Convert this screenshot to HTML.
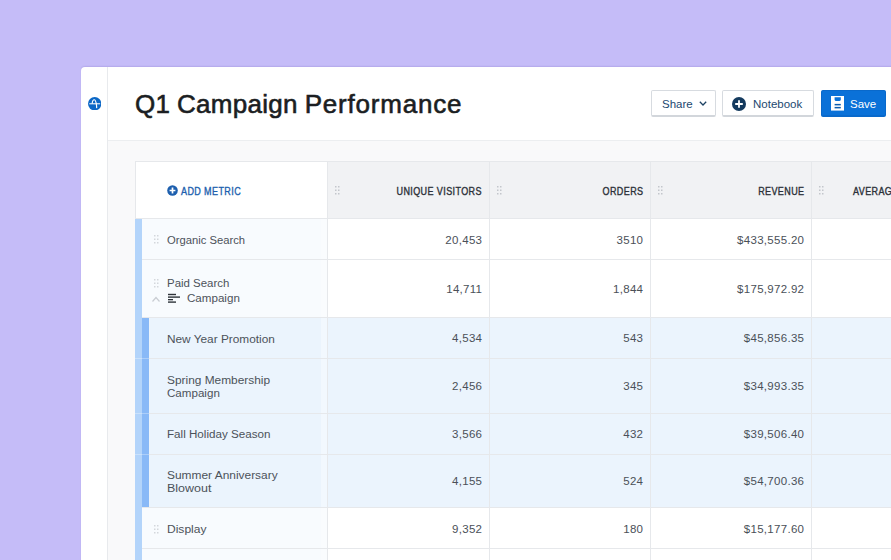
<!DOCTYPE html>
<html><head><meta charset="utf-8">
<style>
*{box-sizing:border-box;margin:0;padding:0}
html,body{width:891px;height:560px;overflow:hidden;background:#c5bcf8;font-family:"Liberation Sans",sans-serif;position:relative}
.a{position:absolute}
.t{position:absolute;white-space:nowrap;font-size:11.7px;color:#4c525a;line-height:20px}
.n{position:absolute;white-space:nowrap;font-size:11.5px;letter-spacing:0.3px;color:#4a5058;line-height:20px;text-align:right}
.h{position:absolute;white-space:nowrap;font-size:10px;font-weight:normal;-webkit-text-stroke:0.35px currentColor;color:#2c3138;text-align:right;line-height:20px;letter-spacing:0.45px;transform:scaleX(0.9);transform-origin:100% 50%}
.btn{position:absolute;top:90px;height:27px;border:1px solid #d7dbe0;border-bottom:2px solid #d2d6db;border-radius:2px;background:#fff;color:#1c4870;font-size:11.5px;line-height:24px;white-space:nowrap}
</style></head><body>
<div class="a" style="left:81px;top:67px;width:820px;height:500px;background:#fff;border-radius:4px 0 0 0;box-shadow:0 -1px 1.5px rgba(70,50,150,0.13)"></div>
<div class="a" style="left:107px;top:67px;width:1px;height:493px;background:#e8eaed"></div>
<div class="a" style="left:108px;top:141px;width:783px;height:419px;background:#f9f9fa"></div>
<div class="a" style="left:108px;top:140px;width:783px;height:1px;background:#eceef0"></div>
<svg class="a" style="left:88px;top:97px" width="13.4" height="13.4" viewBox="0 0 14 14"><circle cx="7" cy="7" r="7" fill="#0b67c6"/><path d="M1.3 7.1H12.7" stroke="#fff" stroke-width="1.1"/><path d="M4.3 7C4.6 4.6 5.4 2.9 6.5 2.9 8 2.9 8.6 6.5 8.9 8.6L9.1 11.6" stroke="#fff" stroke-width="1.2" fill="none"/></svg>
<div class="a" style="left:135.1px;letter-spacing:0.3px;top:89px;font-size:26px;line-height:30px;color:#1b1e22;white-space:nowrap;-webkit-text-stroke:0.6px #1b1e22">Q1</div>
<div class="a" style="left:176.9px;letter-spacing:0.3px;top:89px;font-size:26px;line-height:30px;color:#1b1e22;white-space:nowrap;-webkit-text-stroke:0.6px #1b1e22">Campaign</div>
<div class="a" style="left:304.7px;letter-spacing:0.8px;top:89px;font-size:26px;line-height:30px;color:#1b1e22;white-space:nowrap;-webkit-text-stroke:0.6px #1b1e22">Performance</div>
<div class="btn" style="left:651px;width:65px"><span class="a" style="left:10px;top:1px">Share</span><svg class="a" style="left:47px;top:10px" width="8" height="5" viewBox="0 0 8 5"><path d="M0.8 0.8L4 4 7.2 0.8" stroke="#1d4263" stroke-width="1.3" fill="none"/></svg></div>
<div class="btn" style="left:722px;width:92px"><svg class="a" style="left:9px;top:6px" width="14" height="14" viewBox="0 0 14 14"><circle cx="7" cy="7" r="7" fill="#143a5e"/><path d="M7 3.2v7.6M3.2 7h7.6" stroke="#fff" stroke-width="1.8"/></svg><span class="a" style="left:30px;top:1px">Notebook</span></div>
<div class="btn" style="left:821px;width:65px;background:#0a71d8;border-color:#0969cb;color:#fff"><svg class="a" style="left:8.6px;top:5.3px" width="13.4" height="14.6" viewBox="0 0 13.4 14.6"><path d="M0 0h13.4v14.6h-13.4z" fill="#fff"/><path d="M3.6 1.2h6.2v2.3a1.6 1.6 0 0 1-1.6 1.6h-3a1.6 1.6 0 0 1-1.6-1.6z" fill="#0a71d8"/><rect x="3.6" y="7.9" width="6.2" height="1.5" fill="#0a5cb0"/><rect x="3.6" y="10.9" width="6.2" height="1.5" fill="#0a5cb0"/></svg><span class="a" style="left:28px;top:1px;font-size:11.5px">Save</span></div>
<div class="a" style="left:135px;top:161px;width:760px;height:400px;background:#fff;border-top:1px solid #e6e8eb;border-left:1px solid #e6e8eb"></div>
<div class="a" style="left:328px;top:162px;width:563px;height:56px;background:#f1f2f4"></div>
<div class="a" style="left:136px;top:219px;width:191px;height:98px;background:#f8fbfe"></div>
<div class="a" style="left:136px;top:318px;width:755px;height:189px;background:#ebf4fd"></div>
<div class="a" style="left:136px;top:508px;width:191px;height:52px;background:#f8fbfe"></div>
<div class="a" style="left:321px;top:162px;width:6px;height:398px;background:rgba(255,255,255,0.35)"></div>
<div class="a" style="left:327px;top:161px;width:1px;height:400px;background:#e6e8eb"></div>
<div class="a" style="left:489px;top:161px;width:1px;height:400px;background:#e6e8eb"></div>
<div class="a" style="left:650px;top:161px;width:1px;height:400px;background:#e6e8eb"></div>
<div class="a" style="left:811px;top:161px;width:1px;height:400px;background:#e6e8eb"></div>
<div class="a" style="left:135px;top:218px;width:760px;height:1px;background:#e6e8eb"></div>
<div class="a" style="left:135px;top:259px;width:760px;height:1px;background:#e6e8eb"></div>
<div class="a" style="left:135px;top:317px;width:760px;height:1px;background:#e6e8eb"></div>
<div class="a" style="left:135px;top:358px;width:760px;height:1px;background:#e6e8eb"></div>
<div class="a" style="left:135px;top:413px;width:760px;height:1px;background:#e6e8eb"></div>
<div class="a" style="left:135px;top:454px;width:760px;height:1px;background:#e6e8eb"></div>
<div class="a" style="left:135px;top:507px;width:760px;height:1px;background:#e6e8eb"></div>
<div class="a" style="left:135px;top:548px;width:760px;height:1px;background:#e6e8eb"></div>
<div class="a" style="left:135px;top:219px;width:7px;height:341px;background:#b3d4fa"></div>
<div class="a" style="left:142px;top:318px;width:7px;height:189px;background:#89b9f7"></div>
<div class="a" style="left:135px;top:358px;width:14px;height:1px;background:rgba(255,255,255,0.3)"></div>
<div class="a" style="left:135px;top:413px;width:14px;height:1px;background:rgba(255,255,255,0.3)"></div>
<div class="a" style="left:135px;top:454px;width:14px;height:1px;background:rgba(255,255,255,0.3)"></div>
<svg class="a" style="left:167px;top:185px" width="11" height="11" viewBox="0 0 11 11"><circle cx="5.5" cy="5.5" r="5.3" fill="#1d5fae"/><path d="M5.5 2.6v5.8M2.6 5.5h5.8" stroke="#fff" stroke-width="1.7"/></svg>
<div class="h" style="left:181px;top:181.78px;color:#1d5fae;text-align:left;transform-origin:0 50%">ADD METRIC</div>
<div class="h" style="right:409px;top:181.78px">UNIQUE VISITORS</div>
<div class="h" style="right:248px;top:181.78px">ORDERS</div>
<div class="h" style="right:87px;top:181.78px">REVENUE</div>
<div class="h" style="left:853px;top:181.78px;text-align:left;transform-origin:0 50%">AVERAGE</div>
<svg class="a" style="left:335px;top:186px" width="5" height="9" viewBox="0 0 5 9"><g fill="#c3c6cb"><rect x="0" y="0" width="1.5" height="1.5"/><rect x="3" y="0" width="1.5" height="1.5"/><rect x="0" y="3.5" width="1.5" height="1.5"/><rect x="3" y="3.5" width="1.5" height="1.5"/><rect x="0" y="7" width="1.5" height="1.5"/><rect x="3" y="7" width="1.5" height="1.5"/></g></svg>
<svg class="a" style="left:497px;top:186px" width="5" height="9" viewBox="0 0 5 9"><g fill="#c3c6cb"><rect x="0" y="0" width="1.5" height="1.5"/><rect x="3" y="0" width="1.5" height="1.5"/><rect x="0" y="3.5" width="1.5" height="1.5"/><rect x="3" y="3.5" width="1.5" height="1.5"/><rect x="0" y="7" width="1.5" height="1.5"/><rect x="3" y="7" width="1.5" height="1.5"/></g></svg>
<svg class="a" style="left:658px;top:186px" width="5" height="9" viewBox="0 0 5 9"><g fill="#c3c6cb"><rect x="0" y="0" width="1.5" height="1.5"/><rect x="3" y="0" width="1.5" height="1.5"/><rect x="0" y="3.5" width="1.5" height="1.5"/><rect x="3" y="3.5" width="1.5" height="1.5"/><rect x="0" y="7" width="1.5" height="1.5"/><rect x="3" y="7" width="1.5" height="1.5"/></g></svg>
<svg class="a" style="left:819px;top:186px" width="5" height="9" viewBox="0 0 5 9"><g fill="#c3c6cb"><rect x="0" y="0" width="1.5" height="1.5"/><rect x="3" y="0" width="1.5" height="1.5"/><rect x="0" y="3.5" width="1.5" height="1.5"/><rect x="3" y="3.5" width="1.5" height="1.5"/><rect x="0" y="7" width="1.5" height="1.5"/><rect x="3" y="7" width="1.5" height="1.5"/></g></svg>
<div class="t" style="left:166.6px;top:230.01px;transform:scaleX(0.962);transform-origin:0 50%">Organic Search</div>
<div class="n" style="right:408.70px;top:229.93px">20,453</div>
<div class="n" style="right:247.70px;top:229.93px">3510</div>
<div class="n" style="right:86.70px;top:229.93px">$433,555.20</div>
<svg class="a" style="left:154px;top:235px" width="5" height="9" viewBox="0 0 5 9"><g fill="#d3d7dc"><rect x="0" y="0" width="1.5" height="1.5"/><rect x="3" y="0" width="1.5" height="1.5"/><rect x="0" y="3.5" width="1.5" height="1.5"/><rect x="3" y="3.5" width="1.5" height="1.5"/><rect x="0" y="7" width="1.5" height="1.5"/><rect x="3" y="7" width="1.5" height="1.5"/></g></svg>
<div class="t" style="left:166.6px;top:273.21px;transform:scaleX(0.979);transform-origin:0 50%">Paid Search</div>
<div class="t" style="left:186.6px;top:287.81px;transform:scaleX(0.992);transform-origin:0 50%">Campaign</div>
<div class="n" style="right:408.70px;top:279.13px">14,711</div>
<div class="n" style="right:247.70px;top:279.13px">1,844</div>
<div class="n" style="right:86.70px;top:279.13px">$175,972.92</div>
<svg class="a" style="left:154px;top:279px" width="5" height="9" viewBox="0 0 5 9"><g fill="#d3d7dc"><rect x="0" y="0" width="1.5" height="1.5"/><rect x="3" y="0" width="1.5" height="1.5"/><rect x="0" y="3.5" width="1.5" height="1.5"/><rect x="3" y="3.5" width="1.5" height="1.5"/><rect x="0" y="7" width="1.5" height="1.5"/><rect x="3" y="7" width="1.5" height="1.5"/></g></svg>
<svg class="a" style="left:168px;top:293px" width="13" height="10" viewBox="0 0 13 10"><g fill="#2f343a"><rect x="0" y="0.8" width="8" height="1.4"/><rect x="0" y="3.4" width="12" height="1.4"/><rect x="0" y="6" width="5" height="1.3"/><rect x="0" y="8.4" width="8" height="1.4"/></g></svg>
<svg class="a" style="left:151px;top:295px" width="10" height="8" viewBox="0 0 10 8"><path d="M1.5 6.5L5 2.5 8.5 6.5" stroke="#c9cdd3" stroke-width="1.2" fill="none"/></svg>
<div class="t" style="left:166.6px;top:328.81px;transform:scaleX(1.012);transform-origin:0 50%">New Year Promotion</div>
<div class="n" style="right:408.70px;top:328.33px">4,534</div>
<div class="n" style="right:247.70px;top:328.33px">543</div>
<div class="n" style="right:86.70px;top:328.33px">$45,856.35</div>
<div class="t" style="left:166.6px;top:369.51px;transform:scaleX(1.017);transform-origin:0 50%">Spring Membership</div>
<div class="t" style="left:166.6px;top:382.81px;transform:scaleX(0.992);transform-origin:0 50%">Campaign</div>
<div class="n" style="right:408.70px;top:376.03px">2,456</div>
<div class="n" style="right:247.70px;top:376.03px">345</div>
<div class="n" style="right:86.70px;top:376.03px">$34,993.35</div>
<div class="t" style="left:166.6px;top:424.01px;transform:scaleX(0.995);transform-origin:0 50%">Fall Holiday Season</div>
<div class="n" style="right:408.70px;top:423.93px">3,566</div>
<div class="n" style="right:247.70px;top:423.93px">432</div>
<div class="n" style="right:86.70px;top:423.93px">$39,506.40</div>
<div class="t" style="left:166.6px;top:464.71px;transform:scaleX(1.02);transform-origin:0 50%">Summer Anniversary</div>
<div class="t" style="left:166.6px;top:478.21px;transform:scaleX(1.068);transform-origin:0 50%">Blowout</div>
<div class="n" style="right:408.70px;top:471.43px">4,155</div>
<div class="n" style="right:247.70px;top:471.43px">524</div>
<div class="n" style="right:86.70px;top:471.43px">$54,700.36</div>
<div class="t" style="left:166.6px;top:519.11px;transform:scaleX(1.03);transform-origin:0 50%">Display</div>
<div class="n" style="right:408.70px;top:519.03px">9,352</div>
<div class="n" style="right:247.70px;top:519.03px">180</div>
<div class="n" style="right:86.70px;top:519.03px">$15,177.60</div>
<svg class="a" style="left:154px;top:525px" width="5" height="9" viewBox="0 0 5 9"><g fill="#d3d7dc"><rect x="0" y="0" width="1.5" height="1.5"/><rect x="3" y="0" width="1.5" height="1.5"/><rect x="0" y="3.5" width="1.5" height="1.5"/><rect x="3" y="3.5" width="1.5" height="1.5"/><rect x="0" y="7" width="1.5" height="1.5"/><rect x="3" y="7" width="1.5" height="1.5"/></g></svg>
</body></html>
